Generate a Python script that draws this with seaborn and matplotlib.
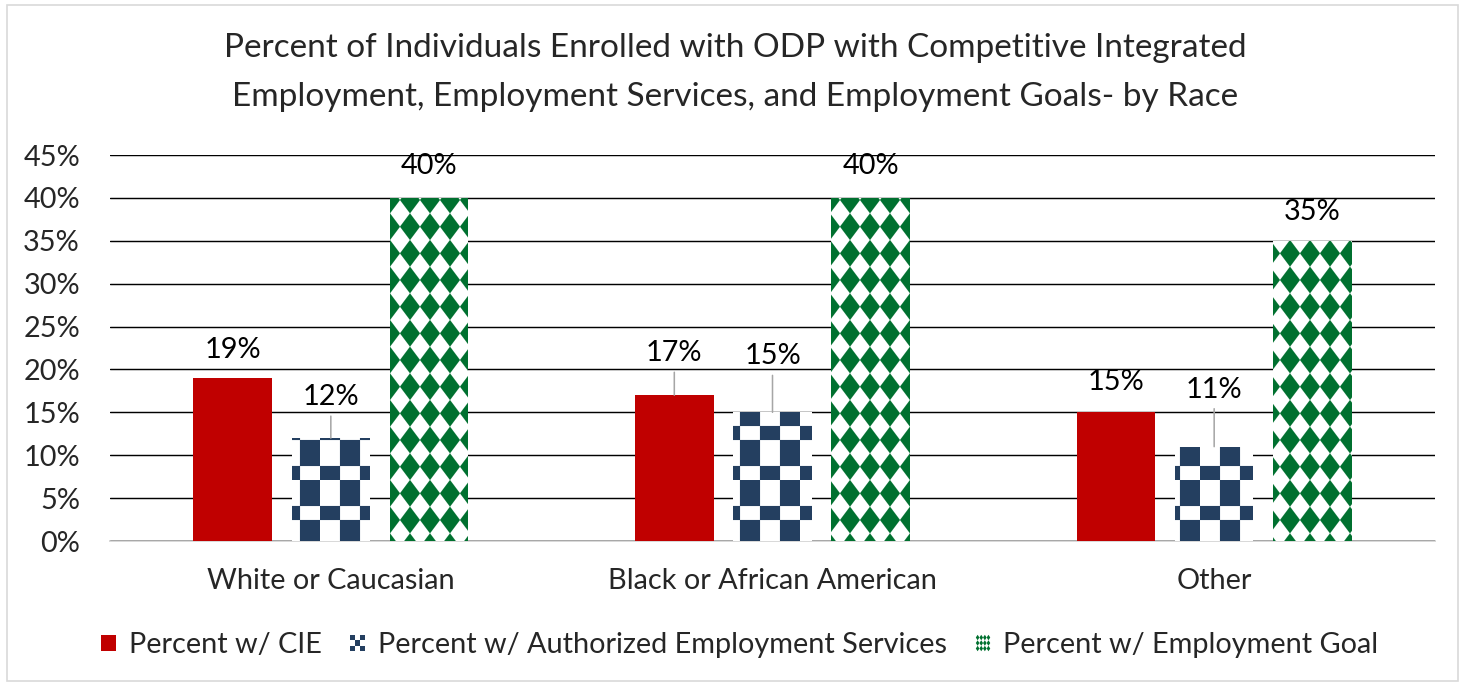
import warnings
warnings.filterwarnings("ignore")
import numpy as np
import pandas as pd
import matplotlib
matplotlib.use("Agg")
import matplotlib.pyplot as plt
import matplotlib.hatch as mhatch
from matplotlib.path import Path
from matplotlib.patches import Rectangle, Polygon
from matplotlib.legend_handler import HandlerBase
import seaborn as sns

# ---------------- data ----------------
categories = ["White or Caucasian", "Black or African American", "Other"]
series = ["Percent w/ CIE",
          "Percent w/ Authorized Employment Services",
          "Percent w/ Employment Goal"]
cie = [19, 17, 15]
auth_services = [12, 15, 11]
emp_goal = [40, 40, 35]
yticks = [0, 5, 10, 15, 20, 25, 30, 35, 40, 45]
title = ("Percent of Individuals Enrolled with ODP with Competitive Integrated\n"
         "Employment, Employment Services, and Employment Goals- by Race")

# ---------------- custom fill patterns ----------------
def _write_polys(polys, vertices, codes):
    i = 0
    for poly in polys:
        vertices[i:i + 4] = poly
        vertices[i + 4] = poly[0]
        codes[i] = Path.MOVETO
        codes[i + 1:i + 4] = Path.LINETO
        codes[i + 4] = Path.CLOSEPOLY
        i += 5


class CheckerHatch(mhatch.HatchPatternBase):
    def __init__(self, hatch, density):
        polys = []
        if 'c' in hatch:
            for p in range(2):
                y0 = p * 0.5
                ya = y0 + 0.175
                y1 = y0 + 0.5
                for c in (0, 2):
                    polys.append([(c * .25, y0), ((c + 1) * .25, y0),
                                  ((c + 1) * .25, ya), (c * .25, ya)])
                for c in (1, 3):
                    polys.append([(c * .25, ya), ((c + 1) * .25, ya),
                                  ((c + 1) * .25, y1), (c * .25, y1)])
        self.polys = polys
        self.num_vertices = 5 * len(polys)

    def set_vertices_and_codes(self, vertices, codes):
        _write_polys(self.polys, vertices, codes)


class DiamondHatch(mhatch.HatchPatternBase):
    def __init__(self, hatch, density):
        polys = []
        if 'd' in hatch:
            nx, ny = 4, 3
            hw, hh = 0.5 / nx, 0.5 / ny
            for i in range(nx):
                for j in range(ny):
                    cx, cy = (i + .5) / nx, (j + .5) / ny
                    polys.append([(cx, cy - hh), (cx + hw, cy),
                                  (cx, cy + hh), (cx - hw, cy)])
        self.polys = polys
        self.num_vertices = 5 * len(polys)

    def set_vertices_and_codes(self, vertices, codes):
        _write_polys(self.polys, vertices, codes)


mhatch._hatch_types.extend([CheckerHatch, DiamondHatch])


class PatternHandler(HandlerBase):
    """Legend key that draws a miniature version of the bar pattern."""
    def __init__(self, kind, color):
        super().__init__()
        self.kind = kind
        self.color = color

    def create_artists(self, legend, orig_handle, xdescent, ydescent,
                       width, height, fontsize, trans):
        x0, y0 = -xdescent, -ydescent
        arts = []
        if self.kind == "solid":
            arts.append(Rectangle((x0, y0), width, height, facecolor=self.color,
                                  edgecolor="none", transform=trans))
        elif self.kind == "checker":
            arts.append(Rectangle((x0, y0), width, height, facecolor="white",
                                  edgecolor="none", transform=trans))
            n = 3
            cw, ch = width / n, height / n
            for i in range(n):
                for j in range(n):
                    if (i + j) % 2 == 0:
                        arts.append(Rectangle((x0 + i * cw, y0 + j * ch), cw, ch,
                                              facecolor=self.color, edgecolor="none",
                                              transform=trans))
        else:
            arts.append(Rectangle((x0, y0), width, height, facecolor="white",
                                  edgecolor="none", transform=trans))
            nx, ny = 4, 3
            hw, hh = width / nx / 2, height / ny / 2
            for i in range(nx):
                for j in range(ny):
                    cx = x0 + (i + .5) * width / nx
                    cy = y0 + (j + .5) * height / ny
                    arts.append(Polygon([(cx, cy - hh), (cx + hw, cy),
                                         (cx, cy + hh), (cx - hw, cy)],
                                        closed=True, facecolor=self.color,
                                        edgecolor="none", transform=trans))
        return arts


# ---------------- style ----------------
sns.set_style("white")
plt.rcParams['font.family'] = ['Lato', 'DejaVu Sans']
plt.rcParams['hatch.linewidth'] = 0.1

red = "#C00000"
navy = "#243F60"
green = "#00702F"
palette = [red, navy, green]
bar_styles = [
    dict(facecolor=red, edgecolor=red, hatch=None, kind="solid"),
    dict(facecolor="white", edgecolor=navy, hatch="c", kind="checker"),
    dict(facecolor="white", edgecolor=green, hatch="d", kind="diamond"),
]
# label offset above bar top in pixels, and whether a leader line is drawn
label_offset_px = [[28, 42, 30],
                   [41, 56, 57],
                   [32, 32, 29]]
leader = [[False, True, False],
          [True, True, True],
          [False, False, False]]

FS = 26
DPI = 80
fig = plt.figure(figsize=(1465 / DPI, 685 / DPI), dpi=DPI)
ax = fig.add_axes([110 / 1465, 1 - 541 / 685, (1435 - 110) / 1465, (541 - 155) / 685])

rows = []
for s, vals in zip(series, [cie, auth_services, emp_goal]):
    for c, v in zip(categories, vals):
        rows.append({"Race": c, "Series": s, "Value": v})
df = pd.DataFrame(rows)

sns.barplot(data=df, x="Race", y="Value", hue="Series", order=categories,
            hue_order=series, palette=palette, saturation=1, width=0.667,
            gap=0.2, legend=False, errorbar=None, ax=ax)

handler_map = {}
for k, (cont, st) in enumerate(zip(ax.containers, bar_styles)):
    handler_map[cont] = PatternHandler(st["kind"], st["edgecolor"])
    for j, bar in enumerate(cont):
        bar.set_facecolor(st["facecolor"])
        bar.set_edgecolor(st["edgecolor"])
        bar.set_linewidth(0)
        if st["hatch"]:
            bar.set_hatch(st["hatch"])
        x = bar.get_x() + bar.get_width() / 2
        y = bar.get_height()
        kw = {}
        if leader[k][j]:
            kw["arrowprops"] = dict(arrowstyle="-", color="#A6A6A6", lw=1.4,
                                    shrinkA=3, shrinkB=0)
        ax.annotate(f"{y:.0f}%", xy=(x, y), xytext=(0, label_offset_px[k][j]),
                    textcoords="offset pixels", ha="center", va="center",
                    fontsize=FS, color="black", **kw)

ax.set_ylim(0, 45)
ax.set_xlim(-0.5, 2.5)
ax.set_yticks(yticks)
ax.set_yticklabels([f"{t}%" for t in yticks])
ax.tick_params(axis="y", length=0, pad=27, labelsize=FS)
ax.tick_params(axis="x", length=0, pad=24, labelsize=FS)
ax.set_xlabel("")
ax.set_ylabel("")
ax.yaxis.grid(True, color="black", linewidth=1.3)
ax.xaxis.grid(False)
ax.set_axisbelow(True)
for side in ["left", "right", "top"]:
    ax.spines[side].set_visible(False)
ax.spines["bottom"].set_color("#D9D9D9")
ax.spines["bottom"].set_linewidth(1.8)
ax.spines["bottom"].set_zorder(0.5)

fig.text(0.5017, 1 - 72.5 / 685, title, ha="center", va="center",
         fontsize=30, linespacing=1.78)

ax.legend(handles=ax.containers, labels=series, handler_map=handler_map,
          loc="center", bbox_to_anchor=(0.505, 0.058),
          bbox_transform=fig.transFigure, ncol=3, frameon=False, fontsize=FS,
          handlelength=0.5, handleheight=0.5, handletextpad=0.45,
          columnspacing=1.0, borderpad=0, borderaxespad=0)

fig.patches.append(Rectangle((7 / 1465, 4 / 685), 1451 / 1465, 676 / 685,
                             transform=fig.transFigure, fill=False,
                             edgecolor="#D9D9D9", linewidth=1.5))

fig.savefig("out.png", dpi=DPI)
